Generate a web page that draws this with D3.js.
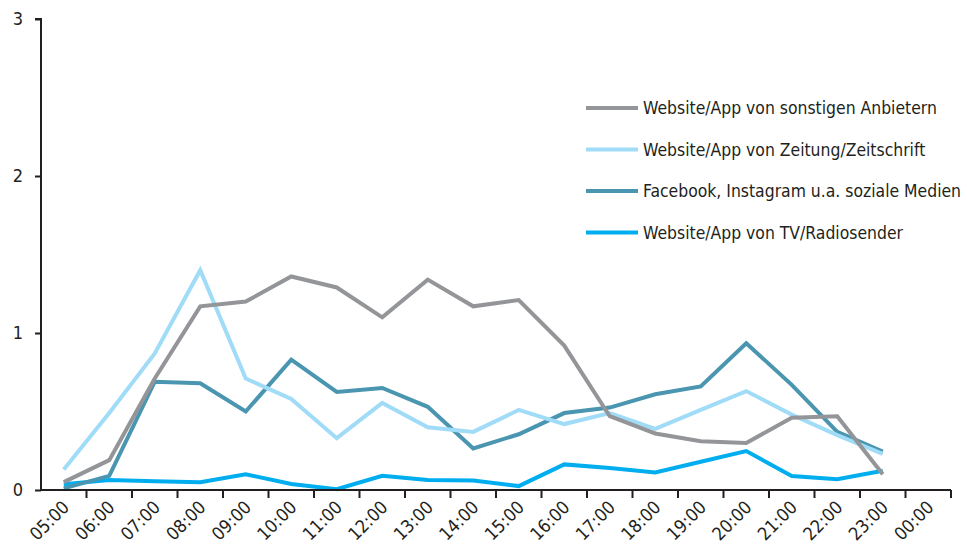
<!DOCTYPE html>
<html>
<head>
<meta charset="utf-8">
<script src="https://cdn.jsdelivr.net/npm/d3@7"></script>
<style>
  body { margin: 0; background: #fff; }
  text { font-family: "Liberation Sans Narrow", "DejaVu Sans Condensed", "Roboto", sans-serif; fill: #231f20; }
</style>
</head>
<body>
<script>
// chart data
var hours = ["05:00", "06:00", "07:00", "08:00", "09:00", "10:00", "11:00", "12:00", "13:00", "14:00",
             "15:00", "16:00", "17:00", "18:00", "19:00", "20:00", "21:00", "22:00", "23:00", "00:00"];
var yTicks = [0, 1, 2, 3];

var sonstige = [0.05, 0.19, 0.71, 1.17, 1.20, 1.36, 1.29, 1.10, 1.34, 1.17, 1.21, 0.92, 0.47, 0.36, 0.31, 0.30, 0.46, 0.47, 0.10];
var zeitung = [0.13, 0.49, 0.87, 1.40, 0.71, 0.58, 0.33, 0.555, 0.40, 0.37, 0.51, 0.42, 0.49, 0.39, 0.51, 0.63, 0.48, 0.35, 0.23];
var sozial = [0.01, 0.09, 0.69, 0.68, 0.50, 0.83, 0.625, 0.65, 0.53, 0.265, 0.355, 0.49, 0.525, 0.61, 0.66, 0.935, 0.67, 0.37, 0.245];
var tvRadio = [0.037, 0.064, 0.055, 0.049, 0.10, 0.038, 0.005, 0.09, 0.064, 0.06, 0.025, 0.163, 0.14, 0.112, 0.18, 0.248, 0.089, 0.068, 0.123];

var seriesNames = ["Website/App von sonstigen Anbietern", "Website/App von Zeitung/Zeitschrift",
                   "Facebook, Instagram u.a. soziale Medien", "Website/App von TV/Radiosender"];
var seriesColors = ["#939598", "#a0dcf7", "#4a95b0", "#00aeef"];
var seriesData = [sonstige, zeitung, sozial, tvRadio];

// svg setup
var w = 967, h = 550;
var leftEdge = 41, rightEdge = 951, topEdge = 19, bottomEdge = 490;

var svg = d3.select("body").append("svg")
    .attr("width", w)
    .attr("height", h);

var x = d3.scaleBand()
    .domain(hours)
    .range([leftEdge, rightEdge]);

var y = d3.scaleLinear()
    .domain([0, 3])
    .range([bottomEdge, topEdge]);

// lines (drawn back to front so grey ends up on top like the original)
var line = d3.line()
    .x(function(d, i) { return x(hours[i]) + x.bandwidth() / 2; })
    .y(function(d) { return y(d); });

var order = [3, 2, 1, 0];
order.forEach(function(k) {
  svg.append("path")
    .datum(seriesData[k])
    .attr("fill", "none")
    .attr("stroke", seriesColors[k])
    .attr("stroke-width", 4)
    .attr("stroke-linejoin", "miter")
    .attr("d", line);
});

// y axis
var yAxis = svg.append("g")
    .attr("transform", "translate(" + leftEdge + ",0)")
    .call(d3.axisLeft(y).tickValues(yTicks).tickSize(6).tickPadding(12).tickFormat(d3.format("d")));
yAxis.select(".domain").attr("stroke", "#231f20").attr("stroke-width", 2).attr("d", "M-6," + topEdge + "H0V" + bottomEdge);
yAxis.selectAll(".tick line").attr("stroke", "#231f20").attr("stroke-width", 2);
yAxis.selectAll(".tick text").style("font-size", "18px").attr("fill", "#231f20");

// x axis with ticks between categories
var xAxis = svg.append("g")
    .attr("transform", "translate(0," + bottomEdge + ")");
xAxis.append("line")
    .attr("x1", leftEdge).attr("x2", rightEdge)
    .attr("stroke", "#231f20").attr("stroke-width", 2);
xAxis.selectAll(".sep")
    .data(hours)
    .enter()
    .append("line")
    .attr("x1", function(d) { return x(d) + x.bandwidth(); })
    .attr("x2", function(d) { return x(d) + x.bandwidth(); })
    .attr("y1", 0).attr("y2", 8)
    .attr("stroke", "#231f20").attr("stroke-width", 2);
xAxis.selectAll(".lab")
    .data(hours)
    .enter()
    .append("text")
    .attr("transform", function(d) {
      return "translate(" + (x(d) + x.bandwidth() / 2 + 2) + ",14) rotate(-45)";
    })
    .attr("dy", "0.35em")
    .style("text-anchor", "end")
    .style("font-size", "18px")
    .text(function(d) { return d; });

// legend
var legend = svg.append("g");
seriesNames.forEach(function(name, i) {
  var ly = 108 + i * 41.5;
  legend.append("line")
    .attr("x1", 586).attr("x2", 638)
    .attr("y1", ly).attr("y2", ly)
    .attr("stroke", seriesColors[i])
    .attr("stroke-width", 4);
  legend.append("text")
    .attr("x", 643)
    .attr("y", ly)
    .attr("dy", "0.35em")
    .style("font-size", "17.4px")
    .text(name);
});
</script>
</body>
</html>
